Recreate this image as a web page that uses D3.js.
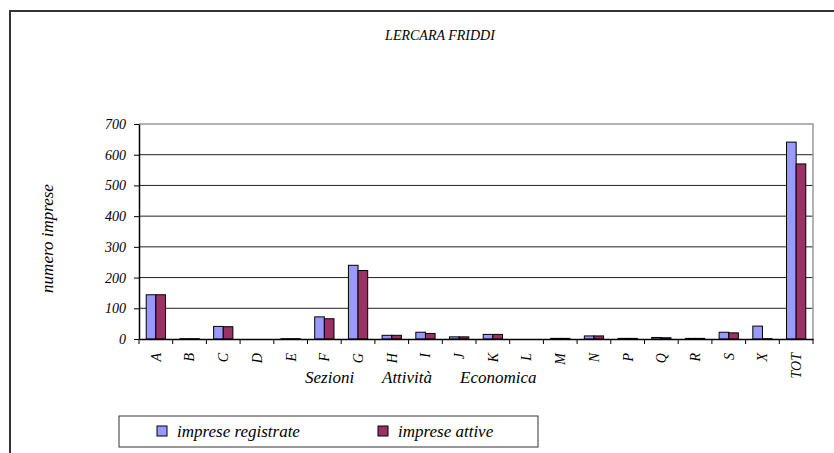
<!DOCTYPE html>
<html lang="it">
<head>
<meta charset="UTF-8">
<script src="https://d3js.org/d3.v7.min.js"></script>
<title>LERCARA FRIDDI</title>
<style>
    body { margin: 0; background: #fff; }
    svg text { font-family: "Liberation Serif", Tinos, "Times New Roman", Times, "Nimbus Roman", "Nimbus Roman No9 L", FreeSerif, "DejaVu Serif", "Noto Serif", serif !important; font-style: italic; fill: #000; }
</style>
</head>
<body>
<svg id="chart" width="834" height="453"></svg>
<script>
    // dati
    const sezioni = ["A","B","C","D","E","F","G","H","I","J","K","L","M","N","P","Q","R","S","X","TOT"];
    const registrate = [144, 1, 41, 0, 1, 72, 240, 12, 22, 7, 15, 0, 2, 10, 2, 5, 2, 22, 42, 641];
    const attive     = [144, 1, 40, 0, 1, 66, 223, 12, 18, 7, 15, 0, 2, 10, 2, 4, 2, 20, 1, 570];
    const yTicks = [0, 100, 200, 300, 400, 500, 600, 700];
    const serie = ["imprese registrate", "imprese attive"];
    const colori = ["#9999FF", "#993366"];
    const titoloX = ["Sezioni", "Attività", "Economica"];

    let svg = d3.select("#chart");

    // cornice esterna
    svg.append("rect")
        .attr("x", 10).attr("y", 11)
        .attr("width", 840).attr("height", 460)
        .attr("fill", "none")
        .attr("stroke", "#333").attr("stroke-width", 2);

    // titolo
    svg.append("text")
        .attr("x", 440).attr("y", 40)
        .attr("text-anchor", "middle")
        .style("font-size", "14px")
        .text("LERCARA FRIDDI");

    const pLeft = 139, pRight = 813, pTop = 124, pBottom = 339;

    let x = d3.scaleBand().domain(sezioni).range([pLeft, pRight]).paddingInner(0).paddingOuter(0);
    let y = d3.scaleLinear().domain([0, 700]).range([pBottom, pTop]);

    // griglia
    svg.append("g")
        .selectAll("line")
        .data(yTicks.filter(d => d > 0 && d < 700))
        .join("line")
        .attr("x1", pLeft).attr("x2", pRight)
        .attr("y1", d => y(d)).attr("y2", d => y(d))
        .attr("stroke", "#222").attr("stroke-width", 1);

    // bordo area grafico
    svg.append("path")
        .attr("d", `M${pLeft},${pTop}H${pRight}V${pBottom}`)
        .attr("fill", "none")
        .attr("stroke", "#999").attr("stroke-width", 1.5);

    // barre
    const step = x.bandwidth();
    const barW = step / 3.5;
    let xs = d3.scaleBand().domain(serie).range([0, barW * 2]);

    serie.forEach((s, k) => {
        const vals = k == 0 ? registrate : attive;
        svg.append("g")
            .selectAll("rect")
            .data(sezioni)
            .join("rect")
            .attr("x", (d) => x(d) + (step - barW * 2) / 2 + xs(s))
            .attr("y", (d, i) => y(vals[i]))
            .attr("width", xs.bandwidth())
            .attr("height", (d, i) => pBottom - y(vals[i]))
            .attr("fill", colori[k])
            .attr("stroke", "#000").attr("stroke-width", 1);
    });

    // asse y
    let yAxis = svg.append("g")
        .attr("transform", `translate(${pLeft},0)`)
        .call(d3.axisLeft(y).tickValues(yTicks).tickSize(5).tickSizeOuter(0));
    yAxis.attr("font-family", null);
    yAxis.select(".domain").attr("stroke", "#000").attr("stroke-width", 1.5);
    yAxis.selectAll(".tick line").attr("stroke", "#000");
    yAxis.selectAll("text")
        .attr("x", -13)
        .style("font-size", "14px");

    // asse x
    let xAxis = svg.append("g")
        .attr("transform", `translate(0,${pBottom})`)
        .call(d3.axisBottom(x).tickSize(0).tickSizeOuter(0));
    xAxis.attr("font-family", null);
    xAxis.select(".domain").attr("stroke", "#000").attr("stroke-width", 1.5);
    xAxis.selectAll("text")
        .attr("transform", "rotate(-90)")
        .attr("x", -14).attr("y", 0).attr("dy", "0.35em")
        .attr("text-anchor", "end")
        .style("font-size", "14px");

    // tacche tra le categorie
    svg.append("g")
        .selectAll("line")
        .data(sezioni.map(d => x(d)).concat([pRight]))
        .join("line")
        .attr("x1", d => d).attr("x2", d => d)
        .attr("y1", pBottom).attr("y2", pBottom + 5)
        .attr("stroke", "#000");

    // titoli assi
    const titoloXpos = [305, 382, 460];
    svg.append("text")
        .attr("y", 383)
        .style("font-size", "17px")
        .selectAll("tspan")
        .data(titoloX)
        .join("tspan")
        .attr("x", (d, i) => titoloXpos[i])
        .text(d => d);

    svg.append("text")
        .attr("transform", `translate(53,${(pTop + pBottom) / 2 + 7}) rotate(-90)`)
        .attr("text-anchor", "middle")
        .style("font-size", "17px")
        .text("numero imprese");

    // legenda
    let leg = svg.append("g");
    leg.append("rect")
        .attr("x", 119).attr("y", 416)
        .attr("width", 419).attr("height", 31)
        .attr("fill", "#fff")
        .attr("stroke", "#333").attr("stroke-width", 1);

    const legX = [157, 378];
    serie.forEach((s, k) => {
        leg.append("rect")
            .attr("x", legX[k]).attr("y", 426)
            .attr("width", 10).attr("height", 10)
            .attr("fill", colori[k])
            .attr("stroke", "#000").attr("stroke-width", 1);
        leg.append("text")
            .attr("x", legX[k] + 20).attr("y", 437)
            .style("font-size", "17px")
            .text(s);
    });
</script>
</body>
</html>
